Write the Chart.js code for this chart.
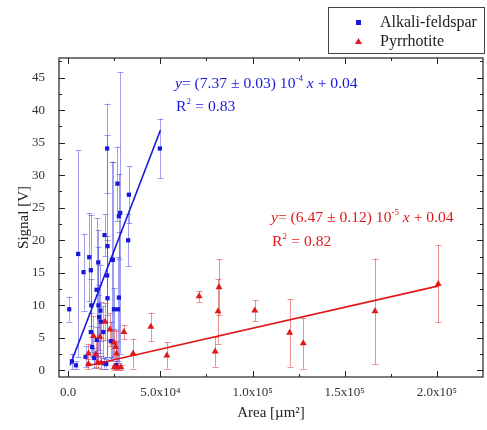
<!DOCTYPE html>
<html>
<head>
<meta charset="utf-8">
<script src="https://cdn.jsdelivr.net/npm/chart.js@4"></script>
<style>
  html, body { margin: 0; padding: 0; background: #fff; }
  #wrap { width: 487px; height: 430px; }
</style>
</head>
<body>
<div id="wrap"><canvas id="signal-area"></canvas></div>
<script>
// Alkali-feldspar: area, signal, error
const feldX = [540, 2000, 4200, 5400, 8300, 9400, 11400, 12300, 12500, 12300, 13000, 14100, 15400, 16300, 15500, 16400, 16800, 17500, 17700, 19000, 19700, 19500, 20600, 21300, 21100, 21300, 23100, 23700, 24200, 24800, 27000, 26000, 26700, 27500, 28200, 27500, 32900, 32500, 21100, 49700];
const feldY = [9.4, 1.4, 0.8, 17.9, 15.1, 2.1, 17.4, 15.4, 10.0, 5.9, 3.6, 1.9, 12.4, 16.6, 4.7, 10.0, 8.2, 9.2, 7.5, 5.9, 20.8, 1.1, 1.0, 19.1, 14.6, 11.1, 4.5, 17.0, 17.0, 9.4, 9.4, 0.8, 28.7, 23.7, 24.2, 11.2, 27.0, 20.0, 34.1, 34.1];
const feldErr = [1.9, 1.2, 0.6, 15.9, 5.9, 1.6, 6.8, 8.5, 4.0, 3.0, 1.5, 1.5, 11.0, 5.0, 2.0, 9.0, 5.0, 7.0, 3.0, 4.0, 3.2, 0.8, 0.7, 17.0, 6.0, 9.0, 3.0, 15.1, 15.0, 3.2, 8.0, 0.6, 5.7, 6.5, 21.6, 10.0, 4.4, 4.0, 6.9, 4.6];

// Pyrrhotite: area, signal, error
const pyrX = [11000, 11000, 13700, 15000, 15900, 17200, 17800, 20000, 22600, 24900, 25700, 26200, 25000, 27000, 28600, 30200, 35200, 44800, 53500, 71000, 79700, 81800, 81300, 101200, 120100, 127500, 166400, 200700];
const pyrY = [1.0, 2.6, 5.3, 2.5, 1.2, 5.2, 1.2, 7.5, 6.3, 4.3, 3.6, 2.6, 0.5, 0.5, 0.5, 5.9, 2.6, 6.7, 2.3, 11.4, 2.9, 12.8, 9.1, 9.2, 5.8, 4.2, 9.1, 13.3];
const pyrErr = [0.8, 1.5, 3.0, 2.0, 0.8, 2.5, 1.0, 2.8, 2.5, 2.0, 2.5, 2.0, 0.4, 0.4, 0.4, 1.1, 2.3, 2.2, 2.0, 0.85, 2.3, 4.3, 5.0, 1.6, 5.2, 3.9, 8.1, 5.9];

// linear fits (end points)
const feldFitX = [1000, 50000];
const feldFitY = [0.8, 36.9];
const pyrFitX = [10000, 201000];
const pyrFitY = [0.7, 13.0];

// axes
const xTickValues = [0, 50000, 100000, 150000, 200000];
const xTickLabels = ['0.0', '5.0x10⁴', '1.0x10⁵', '1.5x10⁵', '2.0x10⁵'];
const xMinorValues = [25000, 75000, 125000, 175000];
const yTickValues = [0, 5, 10, 15, 20, 25, 30, 35, 40, 45];
const yMinorValues = [2.5, 7.5, 12.5, 17.5, 22.5, 27.5, 32.5, 37.5, 42.5, 47.5];

const BLUE = '#1818dc';
const RED = '#e01818';
const SERIF = "'Liberation Serif', 'Times New Roman', serif";

const toPoints = (xs, ys) => xs.map((x, i) => ({ x: x, y: ys[i] }));

// error bars, frame, inner ticks, equations, legend
const decorations = {
  id: 'decorations',
  beforeDatasetsDraw(chart) {
    const { ctx, scales: { x, y } } = chart;
    ctx.save();
    chart.data.datasets.forEach((ds) => {
      if (!ds.errors) return;
      ctx.strokeStyle = ds.errorColor;
      ctx.lineWidth = 1;
      ds.data.forEach((p, i) => {
        const px = Math.round(x.getPixelForValue(p.x)) + 0.5;
        const top = y.getPixelForValue(p.y + ds.errors[i]);
        const bot = y.getPixelForValue(p.y - ds.errors[i]);
        ctx.beginPath();
        ctx.moveTo(px, top);
        ctx.lineTo(px, bot);
        ctx.moveTo(px - 3, Math.round(top) + 0.5);
        ctx.lineTo(px + 3, Math.round(top) + 0.5);
        ctx.moveTo(px - 3, Math.round(bot) + 0.5);
        ctx.lineTo(px + 3, Math.round(bot) + 0.5);
        ctx.stroke();
      });
    });
    ctx.restore();
  },
  afterDraw(chart) {
    const { ctx, chartArea: a, scales: { x, y } } = chart;
    ctx.save();
    ctx.strokeStyle = '#222';
    ctx.lineWidth = 1.2;
    ctx.strokeRect(a.left, a.top, a.right - a.left, a.bottom - a.top);

    ctx.lineWidth = 1;
    ctx.beginPath();
    const xt = (v, len) => {
      const px = Math.round(x.getPixelForValue(v)) + 0.5;
      ctx.moveTo(px, a.bottom); ctx.lineTo(px, a.bottom - len);
      ctx.moveTo(px, a.top); ctx.lineTo(px, a.top + len);
    };
    const yt = (v, len) => {
      const py = Math.round(y.getPixelForValue(v)) + 0.5;
      ctx.moveTo(a.left, py); ctx.lineTo(a.left + len, py);
      ctx.moveTo(a.right, py); ctx.lineTo(a.right - len, py);
    };
    xTickValues.forEach((v) => xt(v, 6));
    xMinorValues.forEach((v) => xt(v, 3));
    yTickValues.forEach((v) => yt(v, 6));
    yMinorValues.forEach((v) => yt(v, 3));
    ctx.stroke();

    // fit equations
    const eq = (px, py, color, exp, coef) => {
      ctx.fillStyle = color;
      ctx.textBaseline = 'alphabetic';
      ctx.textAlign = 'left';
      const parts = [
        ['y', 'italic ', 0], ['= (' + coef + ') 10', '', 0], [exp, '', 1],
        [' x', 'italic ', 0], [' + 0.04', '', 0],
      ];
      let cx = px;
      parts.forEach(([t, st, sup]) => {
        ctx.font = st + (sup ? '9px ' : '15.6px ') + SERIF;
        ctx.fillText(t, cx, sup ? py - 7 : py);
        cx += ctx.measureText(t).width;
      });
    };
    const r2 = (px, py, color, val) => {
      ctx.fillStyle = color;
      ctx.font = '15.6px ' + SERIF;
      ctx.fillText('R', px, py);
      const w = ctx.measureText('R').width;
      ctx.font = '9px ' + SERIF;
      ctx.fillText('2', px + w, py - 7);
      ctx.font = '15.6px ' + SERIF;
      ctx.fillText(' = ' + val, px + w + 5, py);
    };
    eq(175, 88, BLUE, '-4', '7.37 ± 0.03');
    r2(176, 111, BLUE, '0.83');
    eq(271, 222, RED, '-5', '6.47 ± 0.12');
    r2(272, 246, RED, '0.82');

    // legend
    ctx.strokeStyle = '#444';
    ctx.lineWidth = 1;
    ctx.strokeRect(328.5, 7.5, 156, 46);
    ctx.fillStyle = BLUE;
    ctx.fillRect(356, 20, 5, 5);
    ctx.fillStyle = RED;
    ctx.beginPath();
    ctx.moveTo(358.5, 38); ctx.lineTo(362, 44); ctx.lineTo(355, 44);
    ctx.closePath(); ctx.fill();
    ctx.fillStyle = '#222';
    ctx.font = '16px ' + SERIF;
    ctx.textBaseline = 'middle';
    ctx.fillText('Alkali-feldspar', 380, 23);
    ctx.fillText('Pyrrhotite', 380, 42);
    ctx.restore();
  },
};

new Chart(document.getElementById('signal-area'), {
  type: 'scatter',
  plugins: [decorations],
  data: {
    datasets: [
      {
        label: 'Pyrrhotite fit',
        type: 'line',
        data: toPoints(pyrFitX, pyrFitY),
        borderColor: RED,
        borderWidth: 1.6,
        pointRadius: 0,
        fill: false,
      },
      {
        label: 'Alkali-feldspar fit',
        type: 'line',
        data: toPoints(feldFitX, feldFitY),
        borderColor: BLUE,
        borderWidth: 1.6,
        pointRadius: 0,
        fill: false,
      },
      {
        label: 'Pyrrhotite',
        data: toPoints(pyrX, pyrY),
        errors: pyrErr,
        errorColor: 'rgba(228, 70, 70, 0.6)',
        pointStyle: 'triangle',
        pointRadius: 4,
        backgroundColor: RED,
        borderColor: RED,
        borderWidth: 0,
      },
      {
        label: 'Alkali-feldspar',
        data: toPoints(feldX, feldY),
        errors: feldErr,
        errorColor: 'rgba(80, 80, 225, 0.55)',
        pointStyle: 'rect',
        pointRadius: 3,
        backgroundColor: BLUE,
        borderColor: BLUE,
        borderWidth: 0,
      },
    ],
  },
  options: {
    responsive: true,
    maintainAspectRatio: false,
    animation: false,
    layout: { padding: { left: 0, right: 4, top: 58, bottom: 0 } },
    plugins: {
      legend: { display: false },
      tooltip: { enabled: false },
    },
    scales: {
      x: {
        type: 'linear',
        min: -5000,
        max: 225000,
        grid: { display: false },
        border: { display: false },
        afterBuildTicks: (s) => { s.ticks = xTickValues.map((v) => ({ value: v })); },
        afterFit: (s) => { s.height = 53; },
        ticks: {
          padding: 0,
          color: '#333',
          font: { family: SERIF, size: 13 },
          maxRotation: 0,
          callback: (v) => xTickLabels[xTickValues.indexOf(v)],
        },
        title: {
          display: true,
          text: 'Area [µm²]',
          color: '#222',
          font: { family: SERIF, size: 15 },
          padding: { top: 0, bottom: 8 },
        },
      },
      y: {
        type: 'linear',
        min: -1,
        max: 48,
        grid: { display: false },
        border: { display: false },
        afterBuildTicks: (s) => { s.ticks = yTickValues.map((v) => ({ value: v })); },
        afterFit: (s) => { s.width = 59; },
        ticks: {
          padding: 6,
          color: '#333',
          font: { family: SERIF, size: 13 },
        },
        title: {
          display: true,
          text: 'Signal [V]',
          color: '#222',
          font: { family: SERIF, size: 15 },
          padding: { top: 15, bottom: 0 },
        },
      },
    },
  },
});
</script>
</body>
</html>
